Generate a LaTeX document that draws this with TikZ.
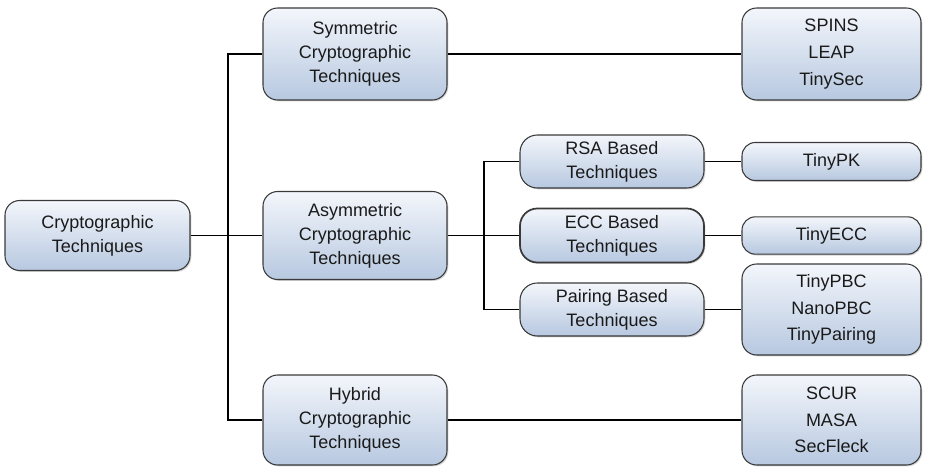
\documentclass[tikz,border=0pt]{standalone}
\usepackage{fontspec}
\setmainfont{Liberation Sans}
\usetikzlibrary{shadows}
\definecolor{boxtop}{HTML}{F3F6FB}
\definecolor{boxbot}{HTML}{B7C8E0}
\definecolor{boxline}{HTML}{3A3A3A}
\definecolor{txt}{HTML}{1A1A1A}
\tikzset{
  box/.style={draw=boxline, line width=0.8pt, rounded corners=11pt,
    top color=boxtop, bottom color=boxbot, align=center, text=txt,
    font=\fontsize{13.5}{18}\selectfont, inner sep=0pt,
    drop shadow={shadow xshift=1pt, shadow yshift=-1pt, opacity=0.35, fill=gray}},
  pill/.style={box, rounded corners=13pt},
  wire/.style={draw=black, line width=0.8pt}
}
\begin{document}
\begin{tikzpicture}[x=0.75pt,y=-0.75pt]
\useasboundingbox (0,0) rectangle (928,467);
% first level
\node[box, minimum width=138.75pt, minimum height=52.5pt] (root) at (97.5,235.5) {Cryptographic\\Techniques};
% second level
\node[box, minimum width=138pt, minimum height=69pt] (sym) at (355,54) {Symmetric\\Cryptographic\\Techniques};
\node[box, minimum width=138pt, minimum height=66pt] (asym) at (355,235.5) {Asymmetric\\Cryptographic\\Techniques};
\node[box, minimum width=138pt, minimum height=67.5pt] (hyb) at (355,420) {Hybrid\\Cryptographic\\Techniques};
% asymmetric families
\node[pill, minimum width=138pt, minimum height=39.75pt] (rsa) at (612,161.5) {RSA Based\\Techniques};
\node[pill, line width=1.3pt, minimum width=138pt, minimum height=40.5pt] (ecc) at (612,235.5) {ECC Based\\Techniques};
\node[pill, minimum width=138pt, minimum height=39.75pt] (pair) at (612,309.5) {Pairing Based\\Techniques};
% implementations
\node[box, font=\fontsize{13.5}{20}\selectfont, minimum width=134.25pt, minimum height=69pt] (spins) at (831.5,54) {SPINS\\LEAP\\TinySec};
\node[box, rounded corners=10pt, minimum width=134.25pt, minimum height=28.5pt] (tinypk) at (831.5,161.5) {TinyPK};
\node[box, rounded corners=10pt, minimum width=134.25pt, minimum height=28pt] (tinyecc) at (831.5,235.5) {TinyECC};
\node[box, font=\fontsize{13.5}{20}\selectfont, minimum width=134.25pt, minimum height=68.25pt] (tinypbc) at (831.5,309.5) {TinyPBC\\NanoPBC\\TinyPairing};
\node[box, font=\fontsize{13.5}{20}\selectfont, minimum width=134.25pt, minimum height=67.5pt] (scur) at (831.5,420) {SCUR\\MASA\\SecFleck};
% junction points of the trees
\coordinate (j1) at (228,235.5);
\coordinate (j2) at (484,235.5);
% connectors
\draw[wire] (root.east) -- (j1) -- (asym.west);
\draw[wire] (sym.west) -| (j1) |- (hyb.west);
\draw[wire] (asym.east) -- (j2) -- (ecc.west);
\draw[wire] (rsa.west) -| (j2) |- (pair.west);
\draw[wire] (sym.east) -- (spins.west);
\draw[wire] (rsa.east) -- (tinypk.west);
\draw[wire] (ecc.east) -- (tinyecc.west);
\draw[wire] (pair.east) -- (tinypbc.west);
\draw[wire] (hyb.east) -- (scur.west);
\end{tikzpicture}
\end{document}
